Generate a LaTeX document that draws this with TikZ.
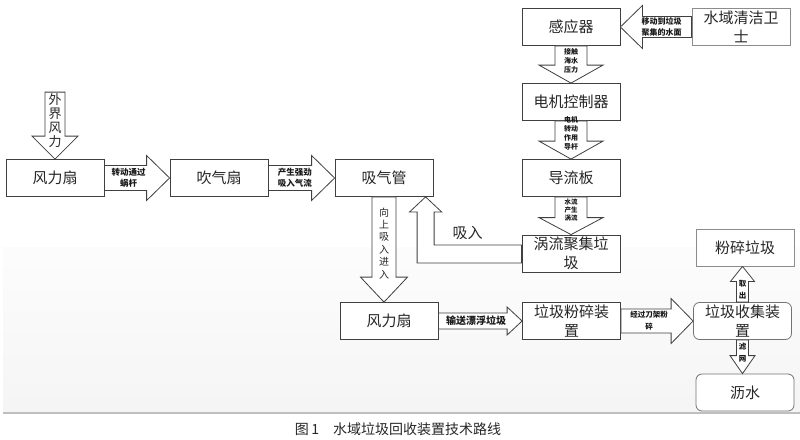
\documentclass[tikz,border=0pt]{standalone}
\usepackage{fontspec}
\setmainfont{Noto Sans CJK SC}
\usetikzlibrary{calc}

% block arrow: tail, tip, shaft half width, head half width, head length
\newcommand{\blockarrow}[5]{%
  \coordinate (neck) at ($(#2)!#5!(#1)$);
  \draw[arrowbody] ($(#1)!#3!90:(#2)$) -- ($(neck)!#3!90:(#2)$) -- ($(neck)!#4!90:(#2)$) -- (#2)
    -- ($(neck)!#4!-90:(#2)$) -- ($(neck)!#3!-90:(#2)$) -- ($(#1)!#3!-90:(#2)$) -- cycle;
}

\begin{document}
\begin{tikzpicture}[x=1pt, y=-1pt,
    box/.style={draw=black!75, line width=0.8pt, fill=white, minimum width=98pt, minimum height=37pt,
      inner sep=1pt, align=center, text=black!85, font=\fontsize{15}{19}\selectfont},
    softbox/.style={box, draw=black!45},
    roundbox/.style={box, draw=black!55, rounded corners=6pt},
    arrowbody/.style={draw=black!75, line width=0.8pt, fill=white, line join=miter},
    smalltag/.style={align=center, inner sep=0pt, text=black!90, font=\bfseries\fontsize{7}{9}\selectfont},
    midtag/.style={align=center, inner sep=0pt, text=black!90, font=\bfseries\fontsize{8}{11.5}\selectfont},
    plaintag/.style={align=center, inner sep=0pt, text=black!85},
]
    \useasboundingbox (0,0) rectangle (800,439);

    % Background band
    \shade[top color=black!1, bottom color=black!4] (3,247) rectangle (800,413);
    \draw[black!25, line width=1.5pt] (3,413) -- (800,413);

    % Boxes
    \node[box] (fan1) at (55,178) {风力扇};
    \node[box] (blower) at (219,178) {吹气扇};
    \node[box] (suction) at (384,178) {吸气管};
    \node[box] (sensor) at (571,27) {感应器};
    \node[softbox] (cleaner) at (741,27) {水域清洁卫\\士};
    \node[box] (motor) at (571,102) {电机控制器};
    \node[box] (guide) at (571,178) {导流板};
    \node[box] (vortex) at (571,253.5) {涡流聚集垃\\圾};
    \node[box] (fan2) at (389,321) {风力扇};
    \node[box] (crusher) at (571.5,321) {垃圾粉碎装\\置};
    \node[roundbox] (collector) at (742.5,321) {垃圾收集装\\置};
    \node[softbox] (crushed) at (745,247.5) {粉碎垃圾};
    \node[roundbox] (drain) at (745,392.5) {沥水};

    % Wind input
    \coordinate (windtop) at ($(fan1.north)+(0,-67)$);
    \blockarrow{windtop}{fan1.north}{10pt}{23pt}{23pt}
    \node[plaintag, font=\fontsize{13}{14}\selectfont] (windtxt) at ($(windtop)!0.42!(fan1.north)$) {外\\界\\风\\力};

    % Left chain
    \blockarrow{fan1.east}{blower.west}{12.5pt}{22.5pt}{23pt}
    \node[midtag, font=\bfseries\fontsize{8.5}{11}\selectfont] (wormtxt) at ($(fan1.east)!0.37!(blower.west)$) {转动通过\\蜗杆};
    \blockarrow{blower.east}{suction.west}{12.5pt}{22.5pt}{23pt}
    \node[midtag, font=\bfseries\fontsize{8.5}{11}\selectfont] (airtxt) at ($(blower.east)!0.4!(suction.west)$) {产生强劲\\吸入气流};

    \coordinate (fan2in) at (suction.south |- fan2.north);
    \blockarrow{suction.south}{fan2in}{12pt}{23.5pt}{25pt}
    \node[plaintag, font=\fontsize{10}{12.4}\selectfont] (uptxt) at ($(suction.south)!0.44!(fan2in)$) {向\\上\\吸\\入\\进\\入};

    % Right column
    \blockarrow{cleaner.west}{sensor.east}{10.5pt}{21.5pt}{22pt}
    \node[midtag] (movetxt) at ($(cleaner.west)!0.42!(sensor.east)$) {移动到垃圾\\聚集的水面};
    \blockarrow{sensor.south}{motor.north}{16pt}{32pt}{18pt}
    \node[smalltag] (presstxt) at ($(sensor.south)!0.4!(motor.north)$) {接触\\海水\\压力};
    \blockarrow{motor.south}{guide.north}{16pt}{32pt}{18pt}
    \node[smalltag] (rodtxt) at ($(motor.south)!0.33!(guide.north)$) {电机\\转动\\作用\\导杆};
    \blockarrow{guide.south}{vortex.north}{16pt}{32pt}{17pt}
    \node[smalltag, font=\bfseries\fontsize{6.5}{8}\selectfont] (flowtxt) at ($(guide.south)!0.36!(vortex.north)$) {水流\\产生\\涡流};

    % Suction back to the pipe
    \coordinate (lbend) at ($(vortex.west)+(-96,0)$);
    \coordinate (lneck) at ($(lbend |- suction.south)+(0,15)$);
    \draw[arrowbody] ($(vortex.west)+(0,-8.5)$) -| ($(lneck)+(8.5,0)$) -- ($(lneck)+(16,0)$) -- (lbend |- suction.south)
        -- ($(lneck)+(-16,0)$) -- ($(lneck)+(-8.5,0)$) |- ($(vortex.west)+(0,9.5)$) -- cycle;
    \node[plaintag, font=\fontsize{15}{17}\selectfont] (intxt) at ($(lbend)+(42,-21)$) {吸入};

    % Bottom chain
    \blockarrow{fan2.east}{crusher.west}{8pt}{14pt}{15pt}
    \node[midtag, font=\bfseries\fontsize{10}{12}\selectfont] (floattxt) at ($(fan2.east)!0.45!(crusher.west)$) {输送漂浮垃圾};
    \blockarrow{crusher.east}{collector.west}{12pt}{22.5pt}{22pt}
    \node[midtag, font=\bfseries\fontsize{7.5}{12}\selectfont] (knifetxt) at ($(crusher.east)!0.39!(collector.west)$) {经过刀架粉\\碎};

    \coordinate (crushedin) at (collector.north |- crushed.south);
    \blockarrow{collector.north}{crushedin}{6pt}{12pt}{15pt}
    \node[midtag, font=\bfseries\fontsize{7.5}{12}\selectfont] (outtxt) at ($(collector.north)!0.34!(crushedin)$) {取\\出};
    \coordinate (drainin) at (collector.south |- drain.north);
    \blockarrow{collector.south}{drainin}{6pt}{12.5pt}{18pt}
    \node[midtag, font=\bfseries\fontsize{7.5}{12}\selectfont] (nettxt) at ($(collector.south)!0.38!(drainin)$) {滤\\网};

    % Caption
    \node[font=\fontsize{14}{16}\selectfont, text=black!85] (caption) at (398,429) {图\,1\hspace{14pt}水域垃圾回收装置技术路线};
\end{tikzpicture}
\end{document}
